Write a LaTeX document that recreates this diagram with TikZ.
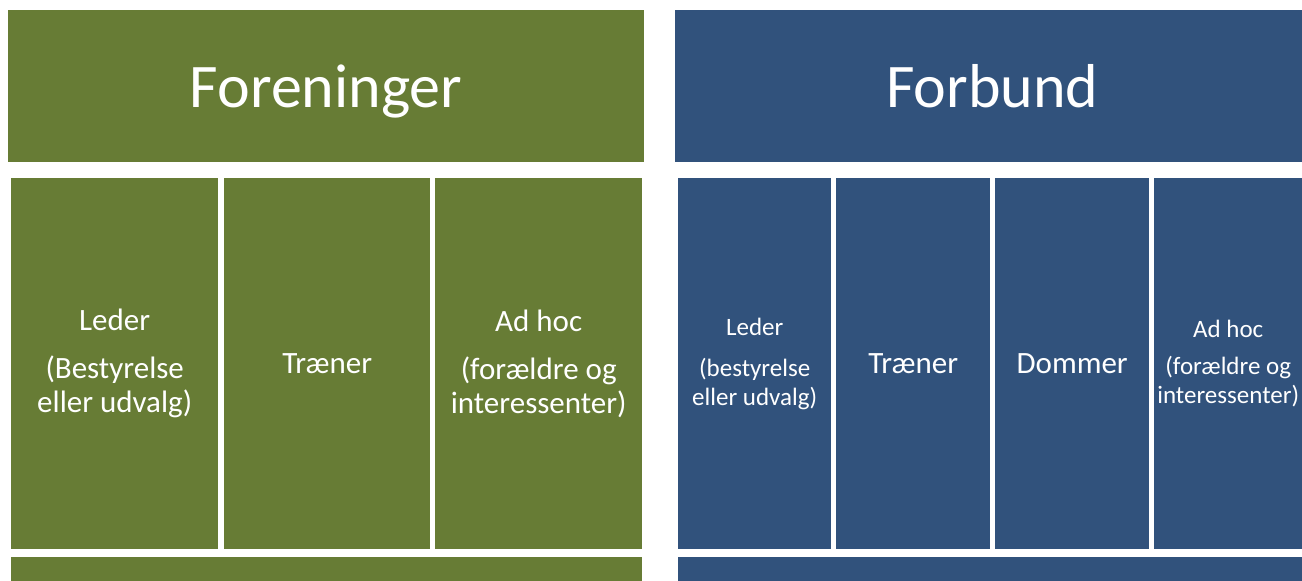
\documentclass[tikz,border=0pt]{standalone}
\usepackage{fontspec}
\setmainfont{Carlito}
\definecolor{forgreen}{HTML}{677C35}
\definecolor{forblue}{HTML}{31527C}
\tikzset{
  box/.style={inner sep=0pt, anchor=north west, text=white, align=center},
  head/.style={box, minimum height=152pt, text depth=0pt, font=\fontsize{62}{70}\selectfont},
  col/.style={box, minimum height=371pt, font=\fontsize{31}{34}\selectfont},
  small/.style={font=\fontsize{25}{29}\selectfont},
}
\begin{document}
\begin{tikzpicture}[x=1pt, y=-1pt]
  \useasboundingbox (0,0) rectangle (1302,581);
  % headers
  \node[head, fill=forgreen, minimum width=636pt] (Fhead) at (8,10) {Foreninger};
  \node[head, fill=forblue, minimum width=634pt] (Bhead) at (675,10) {Forbund};
  % Foreninger columns
  \node[col, fill=forgreen, minimum width=207pt] (Fleder) at (11,178) {Leder\\[14pt](Bestyrelse\\eller udvalg)};
  \node[col, fill=forgreen, minimum width=206pt] (Ftraener) at (224,178) {Træner};
  \node[col, fill=forgreen, minimum width=207pt] (Fadhoc) at (435,178) {Ad hoc\\[14pt](forældre og\\interessenter)};
  % Forbund columns
  \node[col, small, fill=forblue, minimum width=153pt] (Bleder) at (678,178) {Leder\\[12pt](bestyrelse\\eller udvalg)};
  \node[col, fill=forblue, minimum width=154pt] (Btraener) at (836,178) {Træner};
  \node[col, fill=forblue, minimum width=154pt] (Bdommer) at (995,178) {Dommer};
  \node[col, small, fill=forblue, minimum width=148pt] (Badhoc) at (1154,178) {Ad hoc\\[8pt](forældre og\\interessenter)};
  % bottom rows
  \node[box, fill=forgreen, minimum width=631pt, minimum height=24pt] (Fbund) at (11,557) {};
  \node[box, fill=forblue, minimum width=624pt, minimum height=24pt] (Bbund) at (678,557) {};
\end{tikzpicture}
\end{document}
